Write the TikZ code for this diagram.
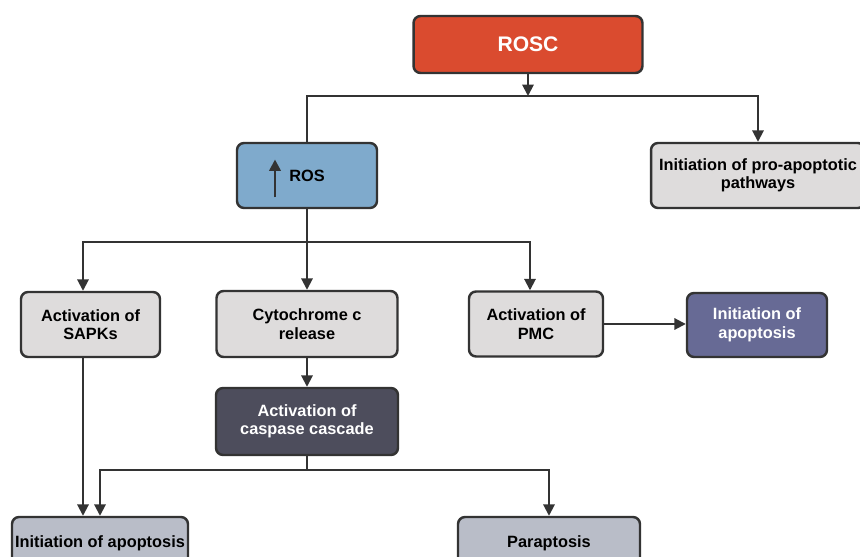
\documentclass[tikz,border=0pt]{standalone}
\usepackage{fontspec}
\setmainfont{Liberation Sans}
\usetikzlibrary{arrows.meta}
\definecolor{roscred}{HTML}{DA4B2F}
\definecolor{rosblue}{HTML}{7FAACC}
\definecolor{boxgray}{HTML}{DEDCDC}
\definecolor{apopblue}{HTML}{676A95}
\definecolor{caspdark}{HTML}{4D4D5C}
\definecolor{endgray}{HTML}{B9BDC8}
\definecolor{edge}{HTML}{333333}

\begin{document}
\begin{tikzpicture}[x=0.02cm,y=-0.02cm,
  box/.style={rectangle,rounded corners=4pt,draw=edge,line width=1.4pt,align=center,
    inner sep=0pt,font=\bfseries\fontsize{9.3}{10.5}\selectfont},
  con/.style={line width=1.1pt,draw=edge},
  arr/.style={con,-{Triangle[length=6.5pt,width=6.5pt]}}]
\useasboundingbox (0,0) rectangle (860,557);
\clip (0,0) rectangle (860,557);
\fill[white] (0,0) rectangle (860,557);
%top levels
\path (528,44.5) node(rosc)[box,fill=roscred,text=white,minimum width=4.58cm,minimum height=1.14cm,
      font=\bfseries\fontsize{12}{14}\selectfont]{ROSC}
(307,175.5) node(ros)[box,fill=rosblue,minimum width=2.8cm,minimum height=1.3cm]{ROS}
(758,175.5) node(pro)[box,fill=boxgray,minimum width=4.28cm,minimum height=1.3cm]{Initiation of pro-apoptotic\\pathways};
%middle row
\path (90.5,324.5) node(sapk)[box,fill=boxgray,minimum width=2.78cm,minimum height=1.3cm]{Activation of\\SAPKs}
(307,324) node(cyto)[box,fill=boxgray,minimum width=3.62cm,minimum height=1.32cm]{Cytochrome c\\release}
(536,324) node(pmc)[box,fill=boxgray,minimum width=2.68cm,minimum height=1.3cm]{Activation of\\PMC}
(757,325) node(apop1)[box,fill=apopblue,text=white,minimum width=2.8cm,minimum height=1.28cm]{Initiation of\\apoptosis}
(307,421.5) node(casp)[box,fill=caspdark,text=white,minimum width=3.64cm,minimum height=1.34cm]{Activation of\\caspase cascade};
%bottom row
\path (100,549.5) node(apop2)[box,fill=endgray,minimum width=3.52cm,minimum height=1.3cm,text depth=0.33cm]{Initiation of apoptosis}
(549,549.5) node(para)[box,fill=endgray,minimum width=3.64cm,minimum height=1.3cm,text depth=0.33cm]{Paraptosis};

\coordinate (j1) at (528,96);
\coordinate (j2) at (307,242);
\coordinate (j3) at (307,470);
\draw[arr] (rosc.south) -- (j1);
\draw[arr] (ros.north) |- (j1) -| (pro.north);
\draw[arr,line width=1.4pt] (ros.center) ++(-32,22) -- ++(0,-38);
\draw[con] (ros.south) -- (j2);
\draw[arr] (j2) -| ([xshift=-0.15cm]sapk.north);
\draw[arr] (j2) -- (cyto.north);
\draw[arr] (j2) -| ([xshift=-0.12cm]pmc.north);
\draw[arr] (pmc.east) -- (pmc.east -| apop1.west);
\draw[arr] (cyto.south) -- (casp.north);
\draw[arr] ([xshift=-0.15cm]sapk.south) -- ([xshift=-0.34cm]apop2.north);
\draw[con] (casp.south) -- (j3);
\draw[arr] (j3) -| (apop2.north);
\draw[arr] (j3) -| (para.north);
\end{tikzpicture}
\end{document}
